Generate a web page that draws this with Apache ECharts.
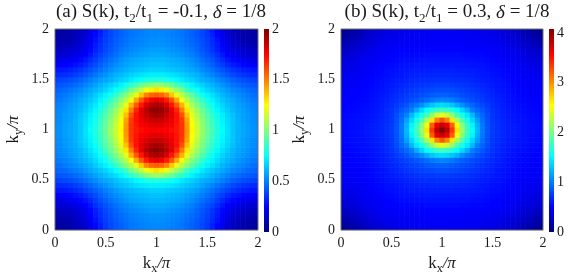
<!DOCTYPE html>
<html><head><meta charset="utf-8">
<script src="https://cdn.jsdelivr.net/npm/echarts@6/dist/echarts.min.js"></script>
<style>html,body{margin:0;padding:0;background:#fff}#c{width:581px;height:280px}</style>
</head><body><div id="c"></div>
<script>
// sample positions (k/pi) at which the reference maps were read
const kxNodes = [0,0.05,0.1,0.15,0.2,0.25,0.3,0.35,0.4,0.45,0.5,0.55,0.6,0.65,0.7,0.75,0.8,0.85,0.9,0.95,1,1.05,1.1,1.15,1.2,1.25,1.3,1.35,1.4,1.45,1.5,1.55,1.6,1.65,1.7,1.75,1.8,1.85,1.9,1.95,2];
const kyNodes = [0,0.05,0.1,0.15,0.2,0.25,0.3,0.35,0.4,0.45,0.5,0.55,0.6,0.65,0.7,0.75,0.8,0.85,0.9,0.95,1,1.05,1.1,1.15,1.2,1.25,1.3,1.35,1.4,1.45,1.5,1.55,1.6,1.65,1.7,1.75,1.8,1.85,1.9,1.95,2];
const axisTicks = [0, 0.5, 1, 1.5, 2];
const cbTicksA = [0, 0.5, 1, 1.5, 2];
const cbTicksB = [0, 1, 2, 3, 4];

// panel (a): one row per |ky-1| level, values along kx
const a000 = [0.53,0.54,0.56,0.58,0.60,0.64,0.69,0.75,0.81,0.88,0.96,1.05,1.15,1.26,1.46,1.65,1.70,1.73,1.75,1.76,1.76,1.76,1.75,1.73,1.70,1.65,1.46,1.26,1.15,1.05,0.96,0.88,0.81,0.75,0.69,0.64,0.60,0.58,0.56,0.54,0.53];
const a005 = [0.53,0.54,0.56,0.58,0.60,0.64,0.69,0.74,0.80,0.87,0.95,1.04,1.14,1.25,1.45,1.65,1.71,1.76,1.78,1.80,1.80,1.80,1.78,1.76,1.71,1.65,1.45,1.25,1.14,1.04,0.95,0.87,0.80,0.74,0.69,0.64,0.60,0.58,0.56,0.54,0.53];
const a010 = [0.52,0.53,0.55,0.57,0.60,0.64,0.68,0.73,0.79,0.86,0.94,1.02,1.12,1.23,1.43,1.64,1.72,1.78,1.82,1.85,1.86,1.85,1.82,1.78,1.72,1.64,1.43,1.23,1.12,1.02,0.94,0.86,0.79,0.73,0.68,0.64,0.60,0.57,0.55,0.53,0.52];
const a015 = [0.52,0.53,0.55,0.57,0.59,0.63,0.67,0.72,0.77,0.84,0.91,0.99,1.09,1.19,1.37,1.59,1.72,1.80,1.86,1.91,1.93,1.91,1.86,1.80,1.72,1.59,1.37,1.19,1.09,0.99,0.91,0.84,0.77,0.72,0.67,0.63,0.59,0.57,0.55,0.53,0.52];
const a020 = [0.51,0.52,0.54,0.56,0.58,0.61,0.65,0.69,0.74,0.81,0.88,0.96,1.05,1.15,1.30,1.50,1.68,1.80,1.89,1.95,1.97,1.95,1.89,1.80,1.68,1.50,1.30,1.15,1.05,0.96,0.88,0.81,0.74,0.69,0.65,0.61,0.58,0.56,0.54,0.52,0.51];
const a025 = [0.50,0.51,0.53,0.55,0.57,0.60,0.63,0.67,0.71,0.77,0.83,0.91,0.99,1.08,1.20,1.40,1.57,1.71,1.82,1.90,1.92,1.90,1.82,1.71,1.57,1.40,1.20,1.08,0.99,0.91,0.83,0.77,0.71,0.67,0.63,0.60,0.57,0.55,0.53,0.51,0.50];
const a030 = [0.48,0.49,0.51,0.53,0.55,0.58,0.61,0.64,0.68,0.73,0.78,0.85,0.93,1.01,1.11,1.23,1.42,1.58,1.70,1.77,1.80,1.77,1.70,1.58,1.42,1.23,1.11,1.01,0.93,0.85,0.78,0.73,0.68,0.64,0.61,0.58,0.55,0.53,0.51,0.49,0.48];
const a035 = [0.46,0.47,0.49,0.51,0.53,0.55,0.58,0.61,0.65,0.69,0.73,0.78,0.85,0.93,1.01,1.11,1.20,1.36,1.49,1.55,1.57,1.55,1.49,1.36,1.20,1.11,1.01,0.93,0.85,0.78,0.73,0.69,0.65,0.61,0.58,0.55,0.53,0.51,0.49,0.47,0.46];
const a040 = [0.44,0.45,0.46,0.48,0.50,0.52,0.55,0.58,0.61,0.64,0.67,0.71,0.76,0.81,0.88,0.98,1.05,1.13,1.22,1.28,1.31,1.28,1.22,1.13,1.05,0.98,0.88,0.81,0.76,0.71,0.67,0.64,0.61,0.58,0.55,0.52,0.50,0.48,0.46,0.45,0.44];
const a045 = [0.41,0.42,0.43,0.44,0.46,0.48,0.51,0.54,0.57,0.60,0.63,0.66,0.69,0.73,0.78,0.84,0.89,0.95,1.00,1.03,1.05,1.03,1.00,0.95,0.89,0.84,0.78,0.73,0.69,0.66,0.63,0.60,0.57,0.54,0.51,0.48,0.46,0.44,0.43,0.42,0.41];
const a050 = [0.37,0.38,0.39,0.40,0.42,0.44,0.47,0.50,0.53,0.56,0.58,0.60,0.63,0.66,0.68,0.71,0.74,0.77,0.80,0.81,0.82,0.81,0.80,0.77,0.74,0.71,0.68,0.66,0.63,0.60,0.58,0.56,0.53,0.50,0.47,0.44,0.42,0.40,0.39,0.38,0.37];
const a055 = [0.33,0.33,0.34,0.35,0.37,0.39,0.42,0.45,0.48,0.51,0.54,0.57,0.60,0.62,0.64,0.66,0.68,0.70,0.71,0.72,0.72,0.72,0.71,0.70,0.68,0.66,0.64,0.62,0.60,0.57,0.54,0.51,0.48,0.45,0.42,0.39,0.37,0.35,0.34,0.33,0.33];
const a060 = [0.29,0.29,0.30,0.31,0.33,0.35,0.38,0.41,0.44,0.47,0.50,0.53,0.56,0.58,0.60,0.62,0.63,0.64,0.65,0.66,0.66,0.66,0.65,0.64,0.63,0.62,0.60,0.58,0.56,0.53,0.50,0.47,0.44,0.41,0.38,0.35,0.33,0.31,0.30,0.29,0.29];
const a065 = [0.24,0.24,0.25,0.26,0.28,0.30,0.33,0.37,0.40,0.44,0.47,0.50,0.53,0.55,0.57,0.59,0.60,0.61,0.62,0.63,0.63,0.63,0.62,0.61,0.60,0.59,0.57,0.55,0.53,0.50,0.47,0.44,0.40,0.37,0.33,0.30,0.28,0.26,0.25,0.24,0.24];
const a070 = [0.20,0.20,0.21,0.22,0.24,0.26,0.29,0.33,0.37,0.41,0.44,0.47,0.50,0.53,0.55,0.57,0.58,0.59,0.60,0.61,0.61,0.61,0.60,0.59,0.58,0.57,0.55,0.53,0.50,0.47,0.44,0.41,0.37,0.33,0.29,0.26,0.24,0.22,0.21,0.20,0.20];
const a075 = [0.16,0.16,0.17,0.18,0.20,0.22,0.25,0.29,0.34,0.38,0.41,0.44,0.47,0.50,0.52,0.54,0.55,0.56,0.57,0.58,0.58,0.58,0.57,0.56,0.55,0.54,0.52,0.50,0.47,0.44,0.41,0.38,0.34,0.29,0.25,0.22,0.20,0.18,0.17,0.16,0.16];
const a080 = [0.13,0.13,0.14,0.15,0.17,0.19,0.22,0.26,0.31,0.35,0.39,0.42,0.45,0.48,0.50,0.52,0.53,0.54,0.55,0.56,0.56,0.56,0.55,0.54,0.53,0.52,0.50,0.48,0.45,0.42,0.39,0.35,0.31,0.26,0.22,0.19,0.17,0.15,0.14,0.13,0.13];
const a085 = [0.10,0.10,0.11,0.12,0.14,0.17,0.20,0.25,0.30,0.34,0.38,0.41,0.44,0.46,0.48,0.50,0.51,0.52,0.53,0.54,0.54,0.54,0.53,0.52,0.51,0.50,0.48,0.46,0.44,0.41,0.38,0.34,0.30,0.25,0.20,0.17,0.14,0.12,0.11,0.10,0.10];
const a090 = [0.08,0.08,0.09,0.10,0.12,0.15,0.18,0.23,0.28,0.33,0.37,0.40,0.43,0.45,0.47,0.49,0.50,0.51,0.52,0.53,0.53,0.53,0.52,0.51,0.50,0.49,0.47,0.45,0.43,0.40,0.37,0.33,0.28,0.23,0.18,0.15,0.12,0.10,0.09,0.08,0.08];
const a095 = [0.06,0.07,0.08,0.09,0.11,0.13,0.16,0.21,0.26,0.31,0.36,0.39,0.42,0.44,0.46,0.48,0.49,0.50,0.51,0.52,0.52,0.52,0.51,0.50,0.49,0.48,0.46,0.44,0.42,0.39,0.36,0.31,0.26,0.21,0.16,0.13,0.11,0.09,0.08,0.07,0.06];
const a100 = [0.05,0.06,0.07,0.08,0.10,0.12,0.15,0.20,0.25,0.30,0.35,0.39,0.42,0.44,0.46,0.48,0.49,0.50,0.51,0.52,0.52,0.52,0.51,0.50,0.49,0.48,0.46,0.44,0.42,0.39,0.35,0.30,0.25,0.20,0.15,0.12,0.10,0.08,0.07,0.06,0.05];
const valuesA = [a100,a095,a090,a085,a080,a075,a070,a065,a060,a055,a050,a045,a040,a035,a030,a025,a020,a015,a010,a005,a000,
                 a005,a010,a015,a020,a025,a030,a035,a040,a045,a050,a055,a060,a065,a070,a075,a080,a085,a090,a095,a100];

// panel (b)
const b000 = [0.54,0.54,0.55,0.56,0.57,0.59,0.61,0.63,0.66,0.70,0.74,0.85,1.00,1.25,1.55,1.78,2.15,2.65,3.35,3.85,4.05,3.85,3.35,2.65,2.15,1.78,1.55,1.25,1.00,0.85,0.74,0.70,0.66,0.63,0.61,0.59,0.57,0.56,0.55,0.54,0.54];
const b005 = [0.54,0.54,0.55,0.56,0.57,0.59,0.61,0.63,0.66,0.70,0.74,0.84,0.99,1.22,1.50,1.74,2.08,2.50,3.20,3.65,3.82,3.65,3.20,2.50,2.08,1.74,1.50,1.22,0.99,0.84,0.74,0.70,0.66,0.63,0.61,0.59,0.57,0.56,0.55,0.54,0.54];
const b010 = [0.53,0.54,0.55,0.56,0.57,0.58,0.60,0.62,0.65,0.69,0.73,0.83,0.96,1.15,1.38,1.60,1.85,2.20,2.65,3.05,3.25,3.05,2.65,2.20,1.85,1.60,1.38,1.15,0.96,0.83,0.73,0.69,0.65,0.62,0.60,0.58,0.57,0.56,0.55,0.54,0.53];
const b015 = [0.52,0.53,0.54,0.55,0.56,0.57,0.59,0.61,0.64,0.68,0.72,0.81,0.92,1.03,1.25,1.45,1.62,1.82,2.10,2.35,2.45,2.35,2.10,1.82,1.62,1.45,1.25,1.03,0.92,0.81,0.72,0.68,0.64,0.61,0.59,0.57,0.56,0.55,0.54,0.53,0.52];
const b020 = [0.51,0.52,0.53,0.54,0.55,0.56,0.58,0.60,0.63,0.67,0.71,0.78,0.86,0.93,1.02,1.21,1.38,1.53,1.68,1.76,1.80,1.76,1.68,1.53,1.38,1.21,1.02,0.93,0.86,0.78,0.71,0.67,0.63,0.60,0.58,0.56,0.55,0.54,0.53,0.52,0.51];
const b025 = [0.50,0.51,0.52,0.53,0.54,0.55,0.57,0.59,0.62,0.65,0.69,0.74,0.79,0.84,0.92,0.98,1.08,1.20,1.30,1.37,1.40,1.37,1.30,1.20,1.08,0.98,0.92,0.84,0.79,0.74,0.69,0.65,0.62,0.59,0.57,0.55,0.54,0.53,0.52,0.51,0.50];
const b030 = [0.49,0.50,0.51,0.52,0.53,0.54,0.56,0.58,0.61,0.64,0.67,0.70,0.74,0.78,0.81,0.85,0.89,0.94,0.99,1.03,1.05,1.03,0.99,0.94,0.89,0.85,0.81,0.78,0.74,0.70,0.67,0.64,0.61,0.58,0.56,0.54,0.53,0.52,0.51,0.50,0.49];
const b035 = [0.48,0.49,0.50,0.51,0.52,0.53,0.55,0.57,0.60,0.62,0.65,0.68,0.71,0.74,0.77,0.79,0.82,0.85,0.87,0.89,0.90,0.89,0.87,0.85,0.82,0.79,0.77,0.74,0.71,0.68,0.65,0.62,0.60,0.57,0.55,0.53,0.52,0.51,0.50,0.49,0.48];
const b040 = [0.47,0.48,0.49,0.50,0.51,0.52,0.54,0.56,0.58,0.60,0.63,0.66,0.68,0.71,0.73,0.75,0.77,0.79,0.80,0.82,0.82,0.82,0.80,0.79,0.77,0.75,0.73,0.71,0.68,0.66,0.63,0.60,0.58,0.56,0.54,0.52,0.51,0.50,0.49,0.48,0.47];
const b045 = [0.46,0.47,0.48,0.49,0.50,0.51,0.53,0.55,0.57,0.59,0.61,0.63,0.65,0.67,0.69,0.71,0.72,0.73,0.74,0.75,0.75,0.75,0.74,0.73,0.72,0.71,0.69,0.67,0.65,0.63,0.61,0.59,0.57,0.55,0.53,0.51,0.50,0.49,0.48,0.47,0.46];
const b050 = [0.45,0.46,0.47,0.48,0.49,0.50,0.52,0.54,0.56,0.58,0.59,0.61,0.62,0.64,0.66,0.67,0.68,0.69,0.69,0.70,0.70,0.70,0.69,0.69,0.68,0.67,0.66,0.64,0.62,0.61,0.59,0.58,0.56,0.54,0.52,0.50,0.49,0.48,0.47,0.46,0.45];
const b055 = [0.43,0.44,0.45,0.46,0.47,0.49,0.51,0.53,0.54,0.56,0.57,0.59,0.60,0.62,0.63,0.64,0.65,0.65,0.66,0.66,0.66,0.66,0.66,0.65,0.65,0.64,0.63,0.62,0.60,0.59,0.57,0.56,0.54,0.53,0.51,0.49,0.47,0.46,0.45,0.44,0.43];
const b060 = [0.41,0.42,0.43,0.44,0.46,0.48,0.50,0.52,0.53,0.55,0.56,0.57,0.59,0.60,0.61,0.61,0.62,0.62,0.63,0.63,0.63,0.63,0.63,0.62,0.62,0.61,0.61,0.60,0.59,0.57,0.56,0.55,0.53,0.52,0.50,0.48,0.46,0.44,0.43,0.42,0.41];
const b065 = [0.38,0.39,0.41,0.43,0.45,0.47,0.48,0.50,0.52,0.53,0.54,0.56,0.57,0.58,0.58,0.59,0.59,0.60,0.60,0.60,0.60,0.60,0.60,0.60,0.59,0.59,0.58,0.58,0.57,0.56,0.54,0.53,0.52,0.50,0.48,0.47,0.45,0.43,0.41,0.39,0.38];
const b070 = [0.35,0.36,0.38,0.41,0.43,0.45,0.47,0.48,0.50,0.51,0.52,0.54,0.55,0.55,0.56,0.56,0.57,0.57,0.57,0.57,0.57,0.57,0.57,0.57,0.57,0.56,0.56,0.55,0.55,0.54,0.52,0.51,0.50,0.48,0.47,0.45,0.43,0.41,0.38,0.36,0.35];
const b075 = [0.31,0.33,0.35,0.38,0.40,0.43,0.45,0.47,0.48,0.50,0.51,0.52,0.53,0.53,0.53,0.54,0.54,0.55,0.55,0.55,0.55,0.55,0.55,0.55,0.54,0.54,0.53,0.53,0.53,0.52,0.51,0.50,0.48,0.47,0.45,0.43,0.40,0.38,0.35,0.33,0.31];
const b080 = [0.26,0.28,0.31,0.34,0.37,0.40,0.43,0.45,0.47,0.48,0.49,0.50,0.50,0.51,0.51,0.51,0.52,0.52,0.52,0.52,0.52,0.52,0.52,0.52,0.52,0.51,0.51,0.51,0.50,0.50,0.49,0.48,0.47,0.45,0.43,0.40,0.37,0.34,0.31,0.28,0.26];
const b085 = [0.20,0.23,0.26,0.30,0.33,0.36,0.39,0.42,0.44,0.45,0.47,0.48,0.48,0.49,0.49,0.49,0.50,0.50,0.50,0.50,0.50,0.50,0.50,0.50,0.50,0.49,0.49,0.49,0.48,0.48,0.47,0.45,0.44,0.42,0.39,0.36,0.33,0.30,0.26,0.23,0.20];
const b090 = [0.14,0.18,0.21,0.25,0.28,0.32,0.35,0.38,0.41,0.43,0.44,0.45,0.46,0.47,0.47,0.48,0.48,0.48,0.49,0.49,0.49,0.49,0.49,0.48,0.48,0.48,0.47,0.47,0.46,0.45,0.44,0.43,0.41,0.38,0.35,0.32,0.28,0.25,0.21,0.18,0.14];
const b095 = [0.08,0.12,0.16,0.20,0.24,0.29,0.32,0.35,0.38,0.40,0.42,0.43,0.44,0.45,0.46,0.46,0.47,0.47,0.48,0.48,0.48,0.48,0.48,0.47,0.47,0.46,0.46,0.45,0.44,0.43,0.42,0.40,0.38,0.35,0.32,0.29,0.24,0.20,0.16,0.12,0.08];
const b100 = [0.02,0.06,0.11,0.16,0.20,0.25,0.29,0.32,0.35,0.37,0.39,0.41,0.42,0.43,0.44,0.45,0.45,0.46,0.46,0.47,0.47,0.47,0.46,0.46,0.45,0.45,0.44,0.43,0.42,0.41,0.39,0.37,0.35,0.32,0.29,0.25,0.20,0.16,0.11,0.06,0.02];
const valuesB = [b100,b095,b090,b085,b080,b075,b070,b065,b060,b055,b050,b045,b040,b035,b030,b025,b020,b015,b010,b005,b000,
                 b005,b010,b015,b020,b025,b030,b035,b040,b045,b050,b055,b060,b065,b070,b075,b080,b085,b090,b095,b100];

const maxA = 2, maxB = 4.08;
const jet = ['#00007F','#0000FF','#007FFF','#00FFFF','#7FFF7F','#FFFF00','#FF7F00','#FF0000','#7F0000'];
const FONT = 'Liberation Serif';
const TXT = '#1a1a1a';

function edges(n) {
  const e = [n[0]];
  for (let i = 0; i < n.length - 1; i++) e.push((n[i] + n[i + 1]) / 2);
  e.push(n[n.length - 1]);
  return e;
}
function cells(vals) {
  const ex = edges(kxNodes), ey = edges(kyNodes), out = [];
  for (let j = 0; j < kyNodes.length; j++)
    for (let i = 0; i < kxNodes.length; i++)
      out.push([ex[i], ex[i + 1], ey[j], ey[j + 1], vals[j][i]]);
  return out;
}
function renderCell(params, api) {
  const p0 = api.coord([api.value(0), api.value(3)]);
  const p1 = api.coord([api.value(1), api.value(2)]);
  return { type: 'rect', shape: { x: p0[0], y: p0[1], width: p1[0] - p0[0] + 0.6, height: p1[1] - p0[1] + 0.6 },
    style: { fill: api.visual('color') } };
}
function renderBar(max) {
  return function (params, api) {
    const p0 = api.coord([0, max]), p1 = api.coord([1, 0]);
    const stops = jet.map((c, i) => ({ offset: i / (jet.length - 1), color: c }));
    return { type: 'rect', shape: { x: p0[0], y: p0[1], width: p1[0] - p0[0], height: p1[1] - p0[1] },
      style: { fill: new echarts.graphic.LinearGradient(0, 1, 0, 0, stops) } };
  };
}
function richSet(big, small, drop) {
  return {
    n: { fontFamily: FONT, fontSize: big, color: TXT, fontWeight: 'normal' },
    i: { fontFamily: FONT, fontSize: big, color: TXT, fontStyle: 'italic', fontWeight: 'normal' },
    s: { fontFamily: FONT, fontSize: small, color: TXT, fontWeight: 'normal', padding: [drop, 0, 0, 0] }
  };
}
const richTitle = richSet(19, 13, 12);
const richName = richSet(17, 12, 11);
const fmt = v => String(v);
function mainX(gi) {
  return { type: 'value', gridIndex: gi, min: 0, max: 2, interval: 0.5,
    axisLine: { show: false }, axisTick: { show: false }, splitLine: { show: false },
    axisLabel: { fontFamily: FONT, fontSize: 14, color: TXT, margin: 6, formatter: fmt, customValues: axisTicks },
    name: '{n|k}{s|x}{i|/π}', nameLocation: 'middle', nameGap: 20, nameTextStyle: { rich: richName } };
}
function mainY(gi) {
  return { type: 'value', gridIndex: gi, min: 0, max: 2, interval: 0.5,
    axisLine: { show: false }, axisTick: { show: false }, splitLine: { show: false },
    axisLabel: { fontFamily: FONT, fontSize: 14, color: TXT, margin: 6, formatter: fmt, customValues: axisTicks },
    name: '{n|k}{s|y}{i|/π}', nameLocation: 'middle', nameGap: 30, nameRotate: 90, nameTextStyle: { rich: richName } };
}
function cbX(gi) {
  return { type: 'value', gridIndex: gi, min: 0, max: 1, show: false };
}
function cbY(gi, max, interval, ticks) {
  return { type: 'value', gridIndex: gi, min: 0, max: max, interval: interval, position: 'right',
    axisLine: { show: false }, axisTick: { show: false }, splitLine: { show: false },
    axisLabel: { fontFamily: FONT, fontSize: 14, color: TXT, margin: 3, formatter: fmt, customValues: ticks } };
}

const chart = echarts.init(document.getElementById('c'), null, { renderer: 'canvas' });
chart.setOption({
  backgroundColor: '#fff',
  animation: false,
  title: [
    { text: '{n|(a) S(k), t}{s|2}{n|/t}{s|1}{n| = -0.1, }{i|δ}{n| = 1/8}', left: 156, top: -5, textAlign: 'center',
      textStyle: { rich: richTitle } },
    { text: '{n|(b) S(k), t}{s|2}{n|/t}{s|1}{n| = 0.3, }{i|δ}{n| = 1/8}', left: 442, top: -5, textAlign: 'center',
      textStyle: { rich: richTitle } }
  ],
  grid: [
    { left: 55, top: 29, width: 203, height: 203, show: true, borderColor: '#6e6e6e', borderWidth: 1, backgroundColor: 'transparent', z: 10 },
    { left: 341, top: 29, width: 202, height: 203, show: true, borderColor: '#6e6e6e', borderWidth: 1, backgroundColor: 'transparent', z: 10 },
    { left: 264, top: 29, width: 5, height: 203 },
    { left: 549, top: 29, width: 5, height: 203 }
  ],
  xAxis: [mainX(0), mainX(1), cbX(2), cbX(3)],
  yAxis: [mainY(0), mainY(1), cbY(2, maxA, 0.5, cbTicksA), cbY(3, maxB, 1, cbTicksB)],
  visualMap: [
    { show: false, type: 'continuous', min: 0, max: maxA, dimension: 4, seriesIndex: 0, inRange: { color: jet } },
    { show: false, type: 'continuous', min: 0, max: maxB, dimension: 4, seriesIndex: 1, inRange: { color: jet } }
  ],
  series: [
    { type: 'custom', xAxisIndex: 0, yAxisIndex: 0, renderItem: renderCell, data: cells(valuesA),
      encode: { x: [0, 1], y: [2, 3] }, clip: true },
    { type: 'custom', xAxisIndex: 1, yAxisIndex: 1, renderItem: renderCell, data: cells(valuesB),
      encode: { x: [0, 1], y: [2, 3] }, clip: true },
    { type: 'custom', xAxisIndex: 2, yAxisIndex: 2, renderItem: renderBar(maxA), data: [[0, 0]] },
    { type: 'custom', xAxisIndex: 3, yAxisIndex: 3, renderItem: renderBar(maxB), data: [[0, 0]] }
  ]
});
</script></body></html>
